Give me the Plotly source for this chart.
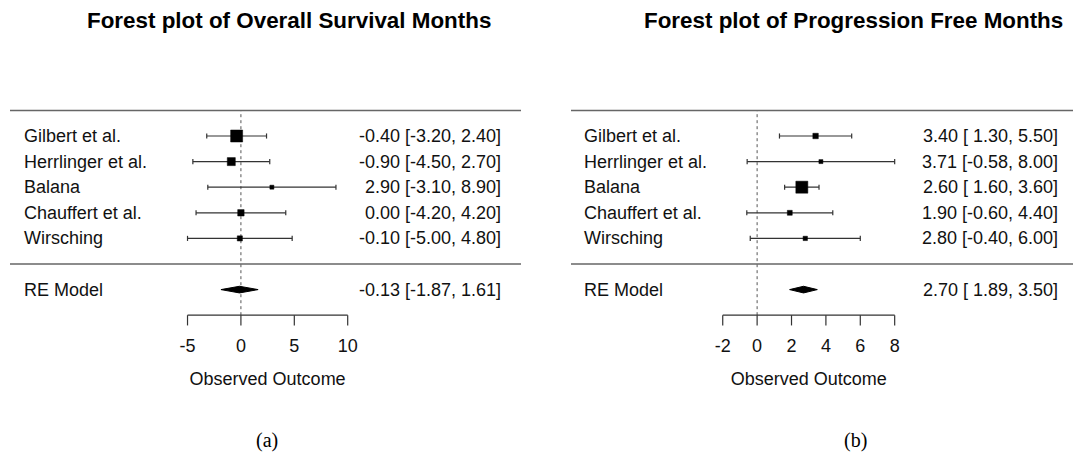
import plotly.graph_objects as go

# ---------------- data ----------------
studies = ["Gilbert et al.", "Herrlinger et al.", "Balana", "Chauffert et al.", "Wirsching"]
rows = [5, 4, 3, 2, 1]

os_est = [-0.40, -0.90, 2.90, 0.00, -0.10]
os_lo = [-3.20, -4.50, -3.10, -4.20, -5.00]
os_hi = [2.40, 2.70, 8.90, 4.20, 4.80]
os_wt = [38.4, 23.4, 8.3, 17.3, 12.6]
os_re = [-0.13, -1.87, 1.61]
os_ticks = [-5, 0, 5, 10]

pfs_est = [3.40, 3.71, 2.60, 1.90, 2.80]
pfs_lo = [1.30, -0.58, 1.60, -0.60, -0.40]
pfs_hi = [5.50, 8.00, 3.60, 4.40, 6.00]
pfs_wt = [14.7, 3.5, 65.0, 10.5, 6.3]
pfs_re = [2.70, 1.89, 3.50]
pfs_ticks = [-2, 0, 2, 4, 6, 8]

titles = ["Forest plot of Overall Survival Months", "Forest plot of Progression Free Months"]
sublabels = ["(a)", "(b)"]
re_label = "RE Model"
xlabel = "Observed Outcome"

# ---------------- layout constants ----------------
W, H = 1073, 459
FONT = "Liberation Sans, Arial, sans-serif"
RE_ROW, SEP_ROW, TOP_ROW, AX_ROW = -1, 0, 6, -2
CAP = 0.1  # half cap height in row units

fig = go.Figure()


def fmt(v):
    s = f"{v:.2f}"
    return s if v < 0 else " " + s


def panel(xa, est, lo, hi, wt, re, ticks, lab_x, num_x, line_x0, line_x1, title, title_x, sub, sub_x):
    wmin, wmax = min(wt), max(wt)
    sizes = [4 + 8 * (w - wmin) / (wmax - wmin) for w in wt]
    # CI lines with end caps
    cx, cy = [], []
    for r, l_, h_ in zip(rows, lo, hi):
        cx += [l_, h_, None, l_, l_, None, h_, h_, None]
        cy += [r, r, None, r - CAP, r + CAP, None, r - CAP, r + CAP, None]
    fig.add_trace(go.Scatter(x=cx, y=cy, xaxis=xa, yaxis="y", mode="lines",
                             line=dict(color="#333333", width=1.2), hoverinfo="skip"))
    # squares
    fig.add_trace(go.Scatter(
        x=est, y=rows, xaxis=xa, yaxis="y", mode="markers", opacity=1,
        marker=dict(symbol="square", size=sizes, color="#000000", opacity=1,
                    line=dict(width=0.5, color="#000000")),
        hoverinfo="skip"))
    # RE diamond
    e, l, h = re
    dh = 0.13
    fig.add_trace(go.Scatter(
        x=[l, e, h, e, l], y=[RE_ROW, RE_ROW + dh, RE_ROW, RE_ROW - dh, RE_ROW],
        xaxis=xa, yaxis="y", mode="lines", fill="toself", fillcolor="black",
        line=dict(color="black", width=1), hoverinfo="skip"))
    # axis line + ticks
    ax_x, ax_y = [ticks[0], ticks[-1]], [AX_ROW, AX_ROW]
    for t in ticks:
        ax_x += [None, t, t]
        ax_y += [None, AX_ROW, AX_ROW - 0.4]
    fig.add_trace(go.Scatter(x=ax_x, y=ax_y, xaxis=xa, yaxis="y", mode="lines",
                             line=dict(color="#333", width=1.2), hoverinfo="skip"))
    fig.add_trace(go.Scatter(x=ticks, y=[AX_ROW - 1.28] * len(ticks), xaxis=xa, yaxis="y",
                             mode="text", text=[str(t) for t in ticks],
                             textfont=dict(family=FONT, size=18, color="#111"),
                             hoverinfo="skip"))
    fig.add_trace(go.Scatter(x=[(ticks[0] + ticks[-1]) / 2], y=[AX_ROW - 2.55], xaxis=xa, yaxis="y",
                             mode="text", text=[xlabel],
                             textfont=dict(family=FONT, size=18, color="#111"),
                             hoverinfo="skip"))
    # dotted reference line at 0
    fig.add_shape(type="line", xref=xa, yref="y", x0=0, x1=0, y0=AX_ROW, y1=TOP_ROW,
                  line=dict(color="#555", width=1, dash="dot"), layer="below")
    # horizontal rules
    for r in (TOP_ROW, SEP_ROW):
        fig.add_shape(type="line", xref="paper", yref="y", x0=line_x0 / W, x1=line_x1 / W,
                      y0=r, y1=r, line=dict(color="#666", width=1.5))
    # study labels and numbers
    for name, r, e_, l_, h_ in zip(studies, rows, est, lo, hi):
        fig.add_annotation(x=lab_x / W, xref="paper", y=r, yref="y", text=name, showarrow=False,
                           xanchor="left", yanchor="middle",
                           font=dict(family=FONT, size=18, color="#111"))
        fig.add_annotation(x=num_x / W, xref="paper", y=r, yref="y",
                           text=f"{e_:.2f} [{fmt(l_)}, {h_:.2f}]", showarrow=False,
                           xanchor="right", yanchor="middle",
                           font=dict(family=FONT, size=18, color="#111"))
    fig.add_annotation(x=lab_x / W, xref="paper", y=RE_ROW, yref="y", text=re_label, showarrow=False,
                       xanchor="left", yanchor="middle", font=dict(family=FONT, size=18, color="#111"))
    fig.add_annotation(x=num_x / W, xref="paper", y=RE_ROW, yref="y",
                       text=f"{e:.2f} [{fmt(l)}, {h:.2f}]", showarrow=False,
                       xanchor="right", yanchor="middle", font=dict(family=FONT, size=18, color="#111"))
    # title and sub-label
    fig.add_annotation(x=title_x / W, xref="paper", y=1 - 21 / H, yref="paper", text=f"<b>{title}</b>",
                       showarrow=False, xanchor="center", yanchor="middle",
                       font=dict(family=FONT, size=22.4, color="black"))
    fig.add_annotation(x=sub_x / W, xref="paper", y=1 - 440 / H, yref="paper", text=sub,
                       showarrow=False, xanchor="center", yanchor="middle",
                       font=dict(family="Liberation Serif, serif", size=20, color="black"))


panel("x", os_est, os_lo, os_hi, os_wt, os_re, os_ticks, 22, 503, 10, 521,
      titles[0], 289, sublabels[0], 267)
panel("x2", pfs_est, pfs_lo, pfs_hi, pfs_wt, pfs_re, pfs_ticks, 582, 1060, 571, 1073,
      titles[1], 853, sublabels[1], 855)

fig.update_layout(
    width=W, height=H, margin=dict(l=0, r=0, t=0, b=0),
    paper_bgcolor="white", plot_bgcolor="white", showlegend=False,
    xaxis=dict(domain=[0, 0.5], range=[-22.56, 27.68], visible=False, anchor="y"),
    xaxis2=dict(domain=[0.5, 1], range=[-12.83, 18.37], visible=False, anchor="y"),
    yaxis=dict(domain=[0, 1], range=[-7.617, 10.3125], visible=False),
)

fig.write_html("out.html", config={"displayModeBar": False},
               post_script="document.body.style.margin='0px';document.body.style.overflow='hidden';")
